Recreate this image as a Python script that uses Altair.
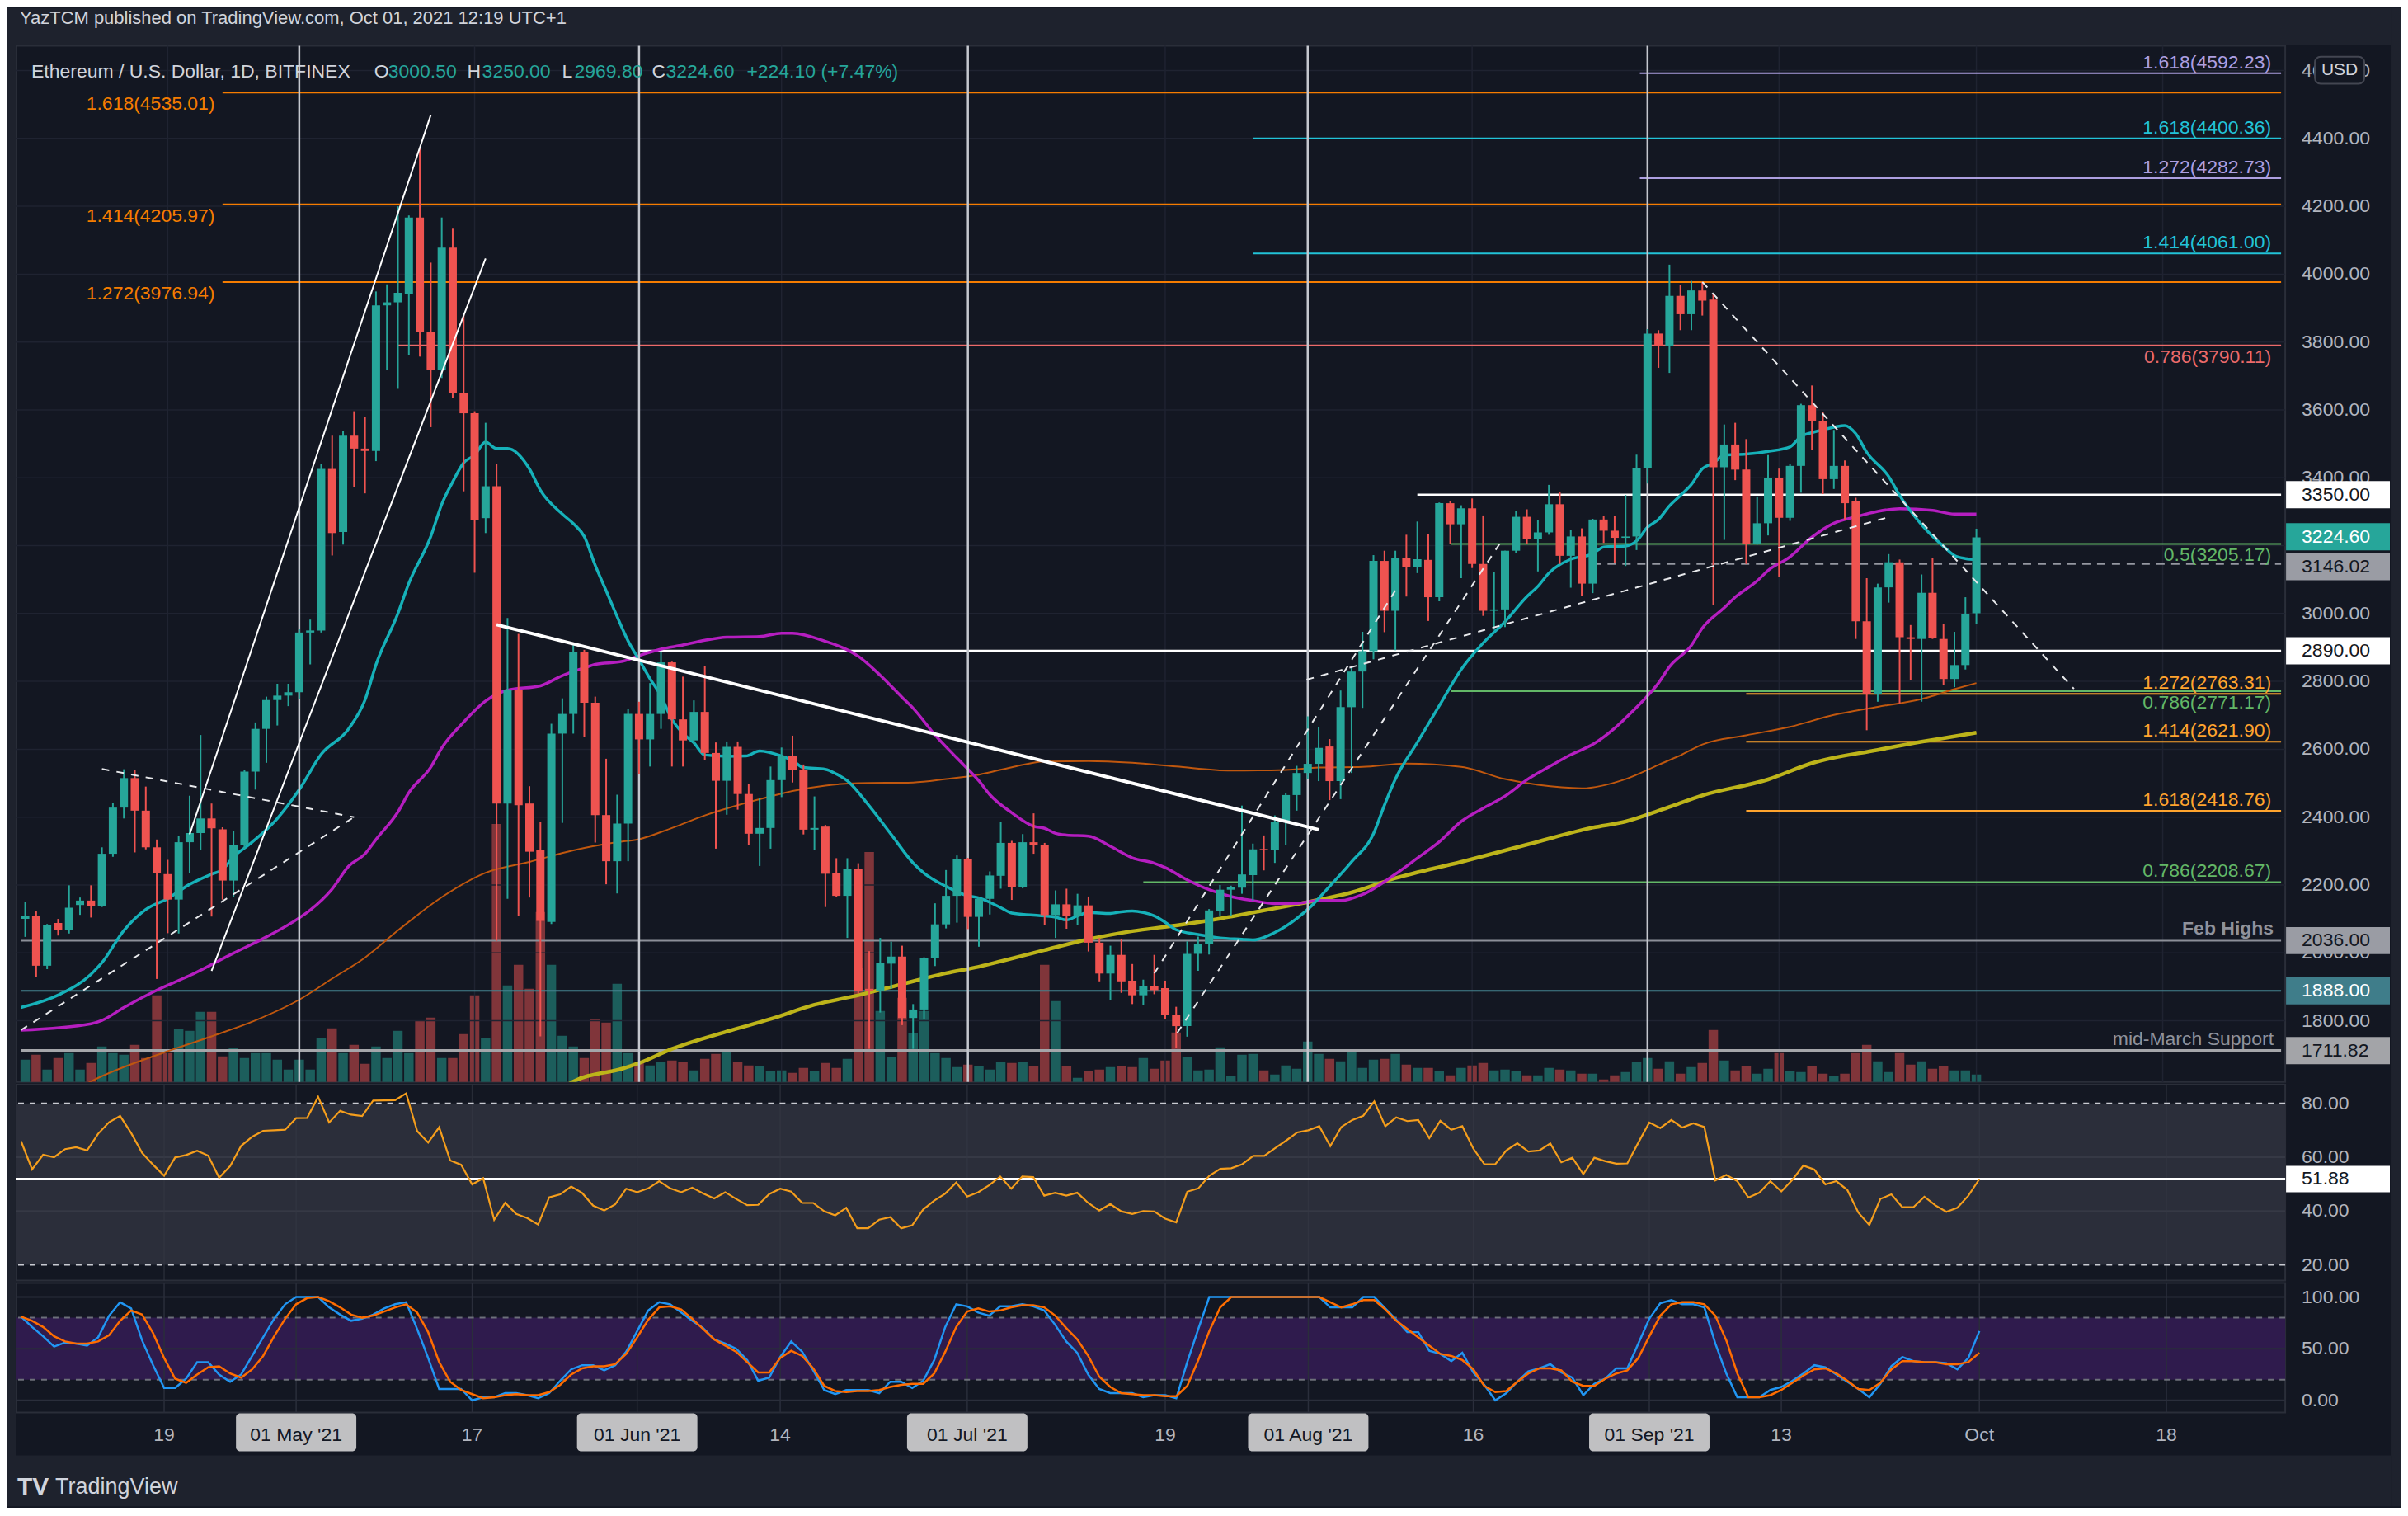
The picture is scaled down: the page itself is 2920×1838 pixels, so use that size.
import altair as alt
import numpy as np
import pandas as pd

# ------------------------------------------------------------------ data
# day index: 0 = 01 May 2021 ; first candle = 06 Apr 2021
FIRST_DAY = -25

opens = [2100, 2110, 1962, 2088, 2067, 2141, 2154, 2139, 2292, 2428, 2515, 2419, 2311, 2232, 2157, 2326, 2353, 2396, 2364, 2213, 2319, 2534, 2660, 2745, 2758,
         2768, 2944, 2950, 3426, 3240, 3524, 3486, 3479, 3908, 3917, 3940, 4167, 3829, 3719, 4078, 3649, 3590, 3281, 3375, 2440, 2775, 2440, 2302, 2091, 2646, 2704, 2886, 2737, 2406, 2270, 2381,
         2704, 2629, 2704, 2856, 2688, 2626, 2710, 2589, 2507, 2607, 2468, 2351, 2368, 2509, 2581, 2540, 2363, 2372, 2235, 2168, 2247, 1894, 1889, 1968, 1989, 1808, 1833, 1985, 2084, 2168,
         2277, 2106, 2159, 2227, 2324, 2194, 2326, 2318, 2111, 2143, 2109, 2140, 2030, 1939, 1994, 1918, 1875, 1902, 1896, 1818, 1784, 1997, 2026, 2124, 2186, 2192, 2229, 2305, 2302, 2387, 2465,
         2530, 2557, 2608, 2506, 2724, 2829, 2889, 3155, 3008, 3164, 3137, 3158, 3048, 3325, 3263, 3310, 3146, 3008, 3012, 3185, 3285, 3220, 3239, 3322, 3170, 3227, 3088, 3277, 3244, 3223, 3227,
         3429, 3825, 3788, 3936, 3882, 3952, 3925, 3431, 3498, 3424, 3206, 3266, 3399, 3282, 3435, 3614, 3566, 3396, 3435, 3330, 2977, 2764, 3077, 3151, 2930, 2925, 3061, 2925, 2807, 2848,
         3000.5]
highs = [2150, 2122, 2085, 2100, 2199, 2163, 2199, 2311, 2443, 2541, 2538, 2490, 2334, 2274, 2345, 2463, 2642, 2440, 2370, 2359, 2540, 2679, 2755, 2793, 2793,
         2953, 2982, 3441, 3524, 3539, 3596, 3580, 3949, 3970, 4200, 4173, 4371, 4034, 4167, 4134, 3879, 3596, 3562, 3441, 2987, 2940, 2491, 2387, 2675, 2750, 2907, 2893, 2755, 2572, 2466, 2718,
         2740, 2795, 2888, 2858, 2814, 2744, 2846, 2620, 2623, 2623, 2498, 2456, 2549, 2605, 2640, 2555, 2461, 2377, 2279, 2279, 2264, 2005, 2044, 2033, 2021, 1849, 1987, 2146, 2244, 2287,
         2280, 2165, 2240, 2387, 2330, 2350, 2411, 2324, 2184, 2189, 2174, 2166, 2044, 2021, 2042, 1967, 1921, 1994, 1918, 1841, 2034, 2048, 2129, 2200, 2198, 2434, 2322, 2346, 2405, 2470, 2551,
         2697, 2665, 2630, 2773, 2845, 2946, 3172, 3185, 3185, 3232, 3271, 3235, 3327, 3331, 3319, 3339, 3289, 3122, 3185, 3303, 3307, 3275, 3379, 3358, 3247, 3251, 3279, 3287, 3287, 3349, 3468,
         3838, 3835, 4028, 3968, 3980, 3977, 3941, 3557, 3562, 3514, 3345, 3467, 3427, 3440, 3618, 3672, 3593, 3541, 3451, 3341, 3104, 3088, 3175, 3159, 2966, 3115, 3164, 2969, 2946, 3048,
         3250.0]
lows = [2047, 1930, 1952, 2051, 2057, 2112, 2104, 2135, 2283, 2396, 2296, 2305, 1923, 2058, 2057, 2236, 2302, 2107, 2157, 2164, 2307, 2481, 2560, 2670, 2727,
        2749, 2850, 2944, 3171, 3203, 3373, 3354, 3449, 3719, 3662, 3762, 3757, 3549, 3694, 3634, 3360, 3120, 3237, 2035, 2159, 2110, 2163, 1754, 2085, 2383, 2646, 2636, 2325, 2202, 2175, 2270,
        2526, 2549, 2660, 2549, 2549, 2615, 2568, 2307, 2407, 2422, 2317, 2256, 2307, 2459, 2502, 2349, 2303, 2135, 2165, 2044, 1880, 1717, 1824, 1894, 1787, 1717, 1806, 1961, 2072, 2089,
        2070, 2018, 2113, 2189, 2156, 2190, 2292, 2083, 2044, 2071, 2081, 2004, 1916, 1862, 1882, 1849, 1845, 1878, 1805, 1719, 1753, 1947, 1995, 2110, 2109, 2174, 2154, 2243, 2265, 2318, 2419,
        2513, 2506, 2450, 2453, 2530, 2722, 2865, 2945, 2892, 3050, 3119, 2978, 3036, 3205, 3104, 3134, 2993, 2952, 2960, 3179, 3205, 3124, 3232, 3146, 3076, 3052, 3060, 3208, 3148, 3140, 3187,
        3383, 3724, 3709, 3835, 3835, 3878, 3025, 3217, 3393, 3146, 3203, 3230, 3108, 3273, 3356, 3483, 3352, 3367, 3277, 2925, 2656, 2740, 3032, 2735, 2803, 2740, 2925, 2788, 2783, 2835,
        2969.8]
closes = [2110, 1962, 2081, 2067, 2133, 2154, 2139, 2292, 2428, 2515, 2419, 2311, 2236, 2157, 2326, 2353, 2396, 2367, 2213, 2319, 2534, 2660, 2745, 2758, 2768,
          2944, 2950, 3426, 3237, 3524, 3486, 3479, 3908, 3917, 3945, 4167, 3829, 3719, 4078, 3649, 3590, 3275, 3375, 2440, 2775, 2435, 2298, 2094, 2646, 2704, 2886, 2737, 2406, 2270, 2381, 2704,
          2629, 2704, 2856, 2688, 2626, 2710, 2589, 2507, 2607, 2468, 2351, 2368, 2509, 2581, 2538, 2363, 2368, 2233, 2168, 2247, 1889, 1889, 1970, 1989, 1808, 1833, 1985, 2084, 2168, 2277,
          2106, 2159, 2228, 2324, 2194, 2326, 2318, 2111, 2143, 2109, 2140, 2030, 1939, 1994, 1916, 1875, 1902, 1890, 1817, 1784, 1997, 2026, 2125, 2186, 2194, 2231, 2305, 2302, 2387, 2465, 2530,
          2557, 2604, 2506, 2724, 2829, 2889, 3155, 3008, 3164, 3136, 3160, 3048, 3325, 3263, 3310, 3146, 3008, 3012, 3185, 3285, 3220, 3239, 3322, 3170, 3227, 3088, 3277, 3244, 3223, 3227, 3429,
          3825, 3788, 3936, 3882, 3952, 3922, 3431, 3498, 3424, 3206, 3266, 3399, 3282, 3435, 3614, 3566, 3396, 3435, 3325, 2977, 2764, 3077, 3151, 2930, 2925, 3061, 2927, 2807, 2848, 2998,
          3224.6]
# volume (relative bar heights)
volumes = [27, 33, 15, 29, 35, 15, 23, 43, 35, 33, 45, 29, 105, 35, 64, 62, 85, 85, 31, 41, 29, 35, 35, 27, 15,
           27, 15, 53, 65, 35, 45, 22, 43, 29, 62, 35, 74, 78, 29, 29, 58, 105, 53, 313, 117, 142, 113, 206, 142, 56, 43, 29, 76, 72, 119, 35,
           23, 20, 24, 26, 24, 14, 28, 34, 36, 24, 20, 19, 13, 14, 11, 17, 13, 23, 17, 28, 138, 279, 86, 30, 102, 59, 86, 35, 29, 18,
           21, 19, 15, 24, 23, 24, 19, 142, 98, 19, 5, 13, 15, 18, 19, 18, 29, 16, 26, 60, 30, 14, 15, 42, 7, 33, 34, 14, 9, 20, 16,
           49, 34, 28, 25, 38, 17, 27, 28, 34, 21, 17, 17, 13, 8, 17, 20, 23, 14, 15, 13, 8, 8, 17, 15, 14, 10, 10, 3, 8, 12, 24,
           29, 16, 25, 10, 18, 23, 63, 26, 14, 19, 10, 16, 35, 13, 12, 19, 10, 7, 10, 35, 45, 25, 12, 35, 21, 25, 16, 19, 14, 14,
           9]
rsi = [65.9, 55.5, 60.9, 60.0, 63.0, 63.7, 62.5, 68.7, 73.0, 75.3,
       69.0, 61.6, 57.2, 53.1, 59.9, 60.8, 62.4, 60.6, 52.4, 56.7,
       64.2, 67.6, 69.8, 70.0, 70.2, 74.5, 74.6, 82.4, 72.9, 77.2,
       75.8, 75.3, 81.0, 81.1, 81.2, 83.7, 69.7, 65.4, 71.1, 58.8,
       57.2, 49.9, 52.2, 36.8, 43.1, 38.9, 37.4, 35.0, 45.1, 46.2,
       49.1, 46.7, 42.0, 40.2, 42.5, 48.3, 47.0, 48.4, 51.1, 48.4,
       47.0, 48.7, 46.5, 44.7, 47.0, 44.5, 42.2, 42.3, 46.3, 48.3,
       47.2, 43.0, 43.0, 39.9, 38.4, 41.2, 33.6, 33.6, 36.8, 37.7,
       33.6, 34.7, 40.6, 43.9, 46.5, 50.6, 45.4, 47.0,
       49.6, 52.8, 48.3, 52.8, 52.6, 45.7, 46.8, 45.7, 46.8, 43.0,
       40.2, 42.6, 39.9, 38.9, 40.0, 39.8, 37.2, 35.8, 47.2, 48.4,
       53.1, 55.7, 55.9, 57.4, 60.5, 60.5, 63.4, 66.2, 69.2, 70.0,
       71.5, 64.1, 71.2, 73.8, 75.4, 80.7, 71.5, 74.8, 73.4, 73.8,
       67.1, 73.5, 70.2, 71.5, 63.2, 57.4, 57.4, 62.5, 65.2, 62.1,
       62.5, 65.1, 58.1, 59.8, 53.7, 59.8, 58.5, 57.6, 57.7, 65.4,
       72.9, 70.8, 73.8, 71.0, 72.6, 71.2, 51.4, 53.4, 51.1, 45.0,
       46.8, 51.1, 47.3, 51.6, 56.9, 55.4, 49.9, 51.1, 47.8, 39.4,
       34.8, 44.5, 46.2, 41.4, 41.4, 45.3, 42.1, 39.7, 41.2, 45.7,
       51.88]
stoch_k = [81, 71, 62, 52, 56, 55, 53, 61, 82, 95, 89, 58, 34, 12, 12, 21, 37, 37, 25, 18,
           25, 43, 61, 79, 93, 100, 100, 100, 90, 83, 77, 79, 83, 89, 93, 95, 69, 41, 11, 11,
           11, 0, 3, 3, 7, 7, 5, 2, 7, 19, 30, 34, 34, 29, 34, 47, 67, 87, 95, 93,
           85, 77, 70, 59, 55, 50, 39, 19, 22, 42, 57, 47, 29, 10, 6, 10, 10, 10, 7, 18,
           18, 12, 19, 39, 71, 93, 91, 85,
           82, 91, 91, 93, 91, 87, 73, 57, 46, 25, 11, 7, 7, 7, 3, 5, 5, 2, 37, 69,
           100, 100, 100, 100, 100, 100, 100, 100, 100, 100, 100, 90, 90, 90, 100, 100, 89, 78, 66, 66,
           48, 45, 38, 46, 27, 15, 0, 7, 18, 28, 31, 35, 27, 22, 5, 16, 21, 31, 31, 55,
           79, 94, 97, 93, 93, 90, 55, 26, 3, 3, 3, 10, 13, 19, 26, 34, 32, 25, 18, 11,
           3, 16, 33, 42, 38, 37, 37, 36, 30, 41, 67]
stoch_d = [81, 77, 71, 62, 57, 55, 55, 57, 63, 77, 87, 83, 65, 41, 21, 17, 25, 32, 33, 26,
           22, 30, 43, 62, 79, 93, 99, 100, 96, 90, 83, 80, 82, 86, 90, 93, 85, 66, 37, 18,
           10, 6, 2, 3, 5, 6, 5, 5, 8, 15, 25, 31, 33, 33, 35, 45, 61, 78, 90, 91,
           88, 79, 69, 59, 53, 47, 37, 27, 27, 41, 48, 43, 31, 14, 9, 8, 9, 9, 10, 13,
           15, 16, 16, 26, 47, 71, 86, 89,
           86, 87, 90, 92, 92, 90, 82, 70, 59, 43, 23, 13, 7, 6, 5, 5, 4, 4, 14, 39,
           67, 90, 100, 100, 100, 100, 100, 100, 100, 100, 100, 95, 90, 93, 97, 97, 88, 77, 69, 61,
           53, 45, 43, 39, 30, 14, 8, 9, 18, 26, 31, 31, 29, 18, 14, 14, 21, 26, 29, 41,
           62, 82, 93, 95, 95, 93, 82, 58, 26, 3, 3, 5, 10, 17, 24, 30, 31, 26, 19, 11,
           10, 17, 30, 38, 38, 37, 37, 35, 35, 37, 46]

# moving averages, sampled as [day, value]
ema20_pts = [(-25.4, 1839), (-21.9, 1877), (-19, 1937), (-18, 1971), (-16, 2066), (-14, 2128), (-12, 2160), (-10, 2202),
             (-8, 2232), (-7, 2245), (-6, 2283), (-4.5, 2321), (-2, 2396), (0, 2481), (2, 2585), (4.5, 2660), (6, 2745),
             (7, 2849), (9, 3000), (10, 3089), (12, 3227), (13, 3322), (14, 3388), (15, 3444), (16, 3467), (17, 3505),
             (18, 3486), (19, 3486), (21, 3426), (22, 3363), (24, 3293), (25, 3265), (26, 3227), (27, 3142), (28, 3067),
             (29, 2991), (30, 2919), (31, 2864), (32, 2808), (33, 2757), (34, 2688), (35, 2647), (36, 2619), (37, 2583),
             (38, 2581), (39, 2579), (40.75, 2580), (42, 2595), (44, 2580), (45, 2567), (46, 2546), (48, 2541), (49, 2527),
             (50, 2507), (52, 2433), (54, 2349), (56, 2265), (57, 2235), (59, 2196), (61, 2168), (62, 2162), (64, 2133),
             (65, 2117), (67, 2111), (69, 2105), (70, 2097), (71, 2109), (72, 2119), (74, 2116), (75, 2121), (76, 2123),
             (77, 2119), (78, 2109), (79, 2090), (80, 2068), (82, 2054), (84, 2044), (86, 2040), (87, 2038), (89, 2060),
             (91, 2101), (92.4, 2140), (94, 2196), (96, 2268), (98, 2351), (99, 2435), (100, 2512), (102, 2620), (104, 2728),
             (106, 2835), (108, 2913), (110, 2976), (112, 3050), (113, 3080), (114, 3119), (116, 3160), (118, 3176),
             (119, 3196), (121, 3199), (122, 3214), (123, 3254), (124, 3277), (125, 3317), (126, 3348), (127, 3380),
             (128, 3427), (129, 3443), (130, 3467), (132, 3470), (134, 3478), (136, 3491), (137, 3522), (138, 3533),
             (140, 3549), (141, 3554), (142, 3530), (143, 3475), (145, 3404), (146, 3348), (148, 3262), (150, 3198),
             (151, 3171), (152, 3162), (153, 3159)]
ma50_pts = [(-25.4, 1772), (-19, 1791), (-18, 1801), (-16, 1839), (-13, 1890), (-10, 1933), (-6, 1999), (-3, 2047),
            (0, 2103), (1, 2126), (3, 2188), (4.5, 2255), (6, 2292), (7, 2334), (9, 2415), (10, 2472), (12, 2547),
            (13, 2604), (15, 2680), (17, 2742), (19, 2774), (22, 2787), (24, 2817), (26, 2840), (27, 2850), (29.5, 2859),
            (31, 2876), (33, 2895), (35, 2907), (37, 2921), (39, 2930), (42, 2932), (44, 2942), (45, 2942), (48, 2918),
            (50, 2893), (51, 2874), (53, 2818), (55, 2753), (56, 2721), (58, 2642), (60, 2574), (62, 2507), (63, 2466),
            (65, 2413), (67, 2373), (68, 2367), (69, 2352), (70, 2347), (72, 2344), (74, 2314), (76, 2280), (78, 2264),
            (79, 2251), (81, 2215), (83, 2186), (85, 2166), (87, 2154), (89, 2145), (91, 2146), (93, 2154), (95, 2154),
            (97, 2172), (100, 2232), (102, 2279), (104, 2327), (106, 2387), (108, 2426), (110, 2462), (112, 2510),
            (114, 2548), (116, 2584), (118, 2614), (120, 2662), (121, 2692), (122.5, 2740), (124, 2795), (125, 2843),
            (127, 2906), (128, 2957), (130, 3017), (131, 3048), (133, 3096), (134, 3127), (136, 3167), (138, 3225),
            (140, 3266), (142, 3285), (144, 3301), (146, 3309), (149, 3304), (151, 3293), (153, 3293)]
ma100_pts = [(-21, 1585), (-19, 1621), (-12, 1710), (-8, 1754), (-4, 1801), (0, 1862), (3, 1924), (6, 1986), (9, 2066),
             (13, 2164), (17, 2236), (21, 2268), (25, 2302), (29, 2326), (31, 2335), (34, 2368), (37, 2405), (40, 2435),
             (43, 2461), (45, 2477), (48, 2493), (51, 2500), (56, 2502), (59, 2512), (62, 2525), (65, 2547), (68, 2564),
             (72, 2565), (76, 2560), (80, 2549), (85, 2537), (90, 2539), (93, 2546), (97, 2548), (101, 2558), (106, 2548),
             (110, 2512), (113, 2495), (117, 2485), (121, 2512), (124, 2554), (126, 2582), (128, 2614), (132, 2641),
             (136, 2666), (140, 2701), (144, 2725), (148, 2748), (151, 2777), (153, 2795)]
ma200_pts = [(23.5, 1590), (25, 1621), (29.5, 1659), (31, 1675), (34, 1717), (39, 1768), (43, 1805), (47, 1847), (51, 1875),
             (55, 1908), (59, 1940), (62, 1959), (64, 1975), (68, 2008), (72, 2040), (76, 2064), (80, 2081), (84, 2101),
             (88, 2125), (91, 2143), (93, 2156), (96, 2178), (100, 2220), (106, 2268), (112, 2319), (118, 2369),
             (121, 2387), (124.4, 2423), (128, 2464), (134, 2511), (138, 2559), (144, 2598), (148, 2622), (151, 2638),
             (153, 2649)]

# horizontal levels
hl_price = [4592.23, 4535.01, 4400.36, 4282.73, 4205.97, 4061.00, 3976.94, 3790.11, 3350.00, 3205.17,
            2890.00, 2771.17, 2763.31, 2621.90, 2418.76, 2208.67, 2036.00, 1888.00, 1711.82]
hl_start = [122.3, -7.0, 87.0, 122.3, -7.0, 87.0, -7.0, 9.0, 102.0, 105.1,
            31.0, 105.1, 132.0, 132.0, 132.0, 77.0, -25.42, -25.42, -25.42]
LAV, OR1, OR2, CY, GRN, SAL = "#ad9fe0", "#f57c00", "#ffa42e", "#22c3d8", "#63b867", "#ec6a6a"
hl_color = [LAV, OR1, CY, LAV, OR1, CY, OR1, SAL, "#ffffff", GRN,
            "#ffffff", GRN, OR2, OR2, OR2, GRN, "#8c8f98", "#44838f", "#a5a6aa"]
hl_width = [2, 2, 2, 2, 2, 2, 2, 2, 2.5, 2, 2.5, 2, 2, 2, 2, 2, 2, 2, 3.5]
dash_price, dash_start = 3146.02, 118.0

lab_left = [(4535.01, "1.618(4535.01)"), (4205.97, "1.414(4205.97)"), (3976.94, "1.272(3976.94)")]
lab_above = [(4592.23, "1.618(4592.23)", LAV), (4400.36, "1.618(4400.36)", CY), (4282.73, "1.272(4282.73)", LAV),
             (4061.00, "1.414(4061.00)", CY), (2763.31, "1.272(2763.31)", OR2), (2621.90, "1.414(2621.90)", OR2),
             (2418.76, "1.618(2418.76)", OR2), (2208.67, "0.786(2208.67)", GRN)]
lab_below = [(3790.11, "0.786(3790.11)", SAL), (3205.17, "0.5(3205.17)", GRN), (2771.17, "0.786(2771.17)", GRN)]
lab_note = [(2036.00, "Feb Highs", "bold"), (1711.82, "mid-March Support", "normal")]

# price-scale tags: value shown, and where the tag sits (TradingView nudges touching tags apart)
box_price = [3350.00, 3146.02, 3224.60, 2890.00, 2036.00, 1888.00, 1711.82]
box_pos = [3350.00, 3138.00, 3226.00, 2890.00, 2036.00, 1888.00, 1711.82]
box_bg = ["#ffffff", "#9a9ca4", "#26a69a", "#ffffff", "#9a9ca4", "#3f7d8a", "#a3a4a8"]
box_fg = ["#131722", "#131722", "#ffffff", "#131722", "#131722", "#ffffff", "#131722"]

# drawn trend lines: x1, y1, x2, y2, width
trend_solid = [(-10.0, 2349, 12.0, 4469, 2), (-8.0, 1947, 17.0, 4046, 2), (18.0, 2967, 93.0, 2363, 4)]
trend_dash = [(-18.0, 2542, 5.0, 2400), (-25.4, 1772, 5.0, 2400), (78.0, 1939, 100.0, 3068),
              (80.1, 1764, 109.5, 3205), (91.9, 2805, 145.1, 3285), (128.0, 3977, 161.9, 2778)]

PRICE_TICKS = list(range(1800, 4601, 200))
# 3200.00 sits fully under the current-price tag in the reference, so it is not printed
PRICE_LABELS = [p for p in PRICE_TICKS if p != 3200]
RSI_TICKS = [20, 40, 60, 80]
STO_TICKS = [0, 50, 100]
RSI_LEVEL = 51.88
X_TICK_DAYS = [-12, 0, 16, 31, 44, 61, 79, 92, 107, 123, 135, 153, 170]
X_TICK_TEXT = ["19", "", "17", "", "14", "", "19", "", "16", "", "13", "Oct", "18"]
MONTH_DAYS = [0, 31, 61, 92, 123]
MONTH_LABELS = ["01 May '21", "01 Jun '21", "01 Jul '21", "01 Aug '21", "01 Sep '21"]

HEADER = "YazTCM published on TradingView.com, Oct 01, 2021 12:19 UTC+1"
LEGEND = [(18, "Ethereum / U.S. Dollar, 1D, BITFINEX", "#d1d4dc"), (434, "O", "#d1d4dc"), (451, "3000.50", "#26a69a"),
          (547, "H", "#d1d4dc"), (565, "3250.00", "#26a69a"), (662, "L", "#d1d4dc"), (677, "2969.80", "#26a69a"),
          (771, "C", "#d1d4dc"), (788, "3224.60", "#26a69a"), (886, "+224.10 (+7.47%)", "#26a69a")]

# ------------------------------------------------------------------ geometry / style
FONT = "Liberation Sans"
BG, FRAME, GRID, SEP = "#131722", "#1e222d", "#1f2331", "#2a2e39"
AXT = "#b2b5be"
UP, DN, VUP, VDN = "#26a69a", "#ef5350", "#1c5e5c", "#80353a"
W, HM, HR, HS, GAP = 2753, 1257, 238, 157, 3
X_DOM = [-25.42, 180.8]
XS = alt.Scale(domain=X_DOM, nice=False, zero=False)
PS = alt.Scale(domain=[1619.6, 4672.8], nice=False, zero=False)
RS = alt.Scale(domain=[14.18, 87.04], nice=False, zero=False)
SS = alt.Scale(domain=[-11.73, 113.57], nice=False, zero=False)
VS = alt.Scale(domain=[0, HM], nice=False, zero=True)
FS = 23

n = len(closes)
assert all(len(a) == n for a in [opens, highs, lows, volumes, rsi, stoch_k, stoch_d])
days = list(range(FIRST_DAY, FIRST_DAY + n))
cdf = pd.DataFrame({"d": days, "o": opens, "h": highs, "l": lows, "c": closes, "v": volumes})
cdf["lo"] = np.minimum(cdf.o, cdf.c)
cdf["hi"] = np.maximum(np.maximum(cdf.o, cdf.c), cdf.lo + 4)
ind = pd.DataFrame({"d": days, "r": rsi, "k": stoch_k, "dd": stoch_d})
one = pd.DataFrame({"k": [0]})
UPCOND = "datum.c >= datum.o"


def xq(field="d"):
    return alt.X(f"{field}:Q", scale=XS, axis=None)


def tick_labels(values, scale):
    """right-hand price-scale labels, placed through the panel's y scale"""
    return alt.Chart(pd.DataFrame({"v": values})).mark_text(
        align="left", baseline="middle", font=FONT, fontSize=FS, color=AXT).encode(
        x=alt.value(W + 20), y=alt.Y("v:Q", scale=scale, axis=None), text=alt.Text("v:Q", format=".2f"))


def pix_rect(x1, x2, y1, y2, color, **kw):
    return alt.Chart(one).mark_rect(color=color, **kw).encode(
        x=alt.value(x1), x2=alt.value(x2), y=alt.value(y1), y2=alt.value(y2))


def pix_text(x, y, text, color, size=FS, **kw):
    return alt.Chart(one).mark_text(text=text, color=color, font=FONT, fontSize=size, **kw).encode(
        x=alt.value(x), y=alt.value(y))


def boxes(prices, pos, bgs, fgs, scale, half):
    df = pd.DataFrame({"p": pos, "bg": bgs, "fg": fgs,
                       "t": [f"{p:.2f}" for p in prices]})
    df["a"] = df.p - half
    df["b"] = df.p + half
    r = alt.Chart(df).mark_rect().encode(
        x=alt.value(W + 1), x2=alt.value(W + 127),
        y=alt.Y("a:Q", scale=scale, axis=None), y2="b:Q", color=alt.Color("bg:N", scale=None))
    t = alt.Chart(df).mark_text(align="left", baseline="middle", font=FONT, fontSize=FS).encode(
        x=alt.value(W + 20), y=alt.Y("p:Q", scale=scale, axis=None), text="t:N",
        color=alt.Color("fg:N", scale=None))
    return [r, t]


# ------------------------------------------------------------------ main panel
grid_h = alt.Chart(pd.DataFrame({"p": PRICE_TICKS})).mark_rule(color=GRID, strokeWidth=1.5).encode(
    y=alt.Y("p:Q", scale=PS, axis=None))
grid_v = alt.Chart(pd.DataFrame({"d": X_TICK_DAYS})).mark_rule(color=GRID, strokeWidth=1.5).encode(x=xq())

hl = pd.DataFrame({"p": hl_price, "s": hl_start, "e": X_DOM[1], "col": hl_color, "w": hl_width})
hlines = alt.Chart(hl).mark_rule().encode(
    x=xq("s"), x2="e:Q", y=alt.Y("p:Q", scale=PS, axis=None),
    color=alt.Color("col:N", scale=None), strokeWidth=alt.StrokeWidth("w:Q", scale=None))
dline = alt.Chart(pd.DataFrame({"p": [dash_price], "s": [dash_start], "e": [X_DOM[1]]})).mark_rule(
    color="#9598a1", strokeWidth=2, strokeDash=[10, 8]).encode(
    x=xq("s"), x2="e:Q", y=alt.Y("p:Q", scale=PS, axis=None))


def ma_line(pts, color, width):
    df = pd.DataFrame(pts, columns=["d", "v"])
    return alt.Chart(df).mark_line(color=color, strokeWidth=width, interpolate="monotone", clip=True).encode(
        x=xq(), y=alt.Y("v:Q", scale=PS, axis=None))


mas = [ma_line(ma100_pts, "#c0570e", 2), ma_line(ma200_pts, "#bdb41a", 4.5),
       ma_line(ma50_pts, "#b51ec0", 3.5), ma_line(ema20_pts, "#16b1b9", 3.5)]

vlines = alt.Chart(pd.DataFrame({"d": MONTH_DAYS})).mark_rule(color="#c4c7ce", strokeWidth=2.5).encode(x=xq())

wick = alt.Chart(cdf).mark_rule(strokeWidth=2).encode(
    x=xq(), y=alt.Y("l:Q", scale=PS, axis=None), y2="h:Q",
    color=alt.condition(UPCOND, alt.value(UP), alt.value(DN)))
body = alt.Chart(cdf).mark_bar(size=10, orient="vertical").encode(
    x=xq(), y=alt.Y("lo:Q", scale=PS, axis=None), y2="hi:Q",
    color=alt.condition(UPCOND, alt.value(UP), alt.value(DN)))

ts = pd.DataFrame(trend_solid, columns=["x1", "y1", "x2", "y2", "w"])
tsol = alt.Chart(ts).mark_rule(color="#ffffff").encode(
    x=xq("x1"), y=alt.Y("y1:Q", scale=PS, axis=None), x2="x2:Q", y2="y2:Q",
    strokeWidth=alt.StrokeWidth("w:Q", scale=None))
td = pd.DataFrame(trend_dash, columns=["x1", "y1", "x2", "y2"])
tdash = alt.Chart(td).mark_rule(color="#e8e9ec", strokeWidth=2, strokeDash=[9, 9]).encode(
    x=xq("x1"), y=alt.Y("y1:Q", scale=PS, axis=None), x2="x2:Q", y2="y2:Q")

ll = pd.DataFrame(lab_left, columns=["p", "t"])
ll["x"] = -7.7
t_left = alt.Chart(ll).mark_text(align="right", baseline="top", dy=3, font=FONT, fontSize=FS, color=OR1).encode(
    x=xq("x"), y=alt.Y("p:Q", scale=PS, axis=None), text="t:N")
la = pd.DataFrame(lab_above, columns=["p", "t", "col"])
t_above = alt.Chart(la).mark_text(align="right", baseline="bottom", dy=-1, font=FONT, fontSize=FS).encode(
    x=alt.value(W - 17), y=alt.Y("p:Q", scale=PS, axis=None), text="t:N", color=alt.Color("col:N", scale=None))
lb = pd.DataFrame(lab_below, columns=["p", "t", "col"])
t_below = alt.Chart(lb).mark_text(align="right", baseline="top", dy=3, font=FONT, fontSize=FS).encode(
    x=alt.value(W - 17), y=alt.Y("p:Q", scale=PS, axis=None), text="t:N", color=alt.Color("col:N", scale=None))
t_notes = []
for p, t, fw in lab_note:
    t_notes.append(alt.Chart(pd.DataFrame({"p": [p], "t": [t]})).mark_text(
        align="right", baseline="bottom", dy=-2, font=FONT, fontSize=FS, fontWeight=fw, color="#8f929b").encode(
        x=alt.value(W - 14), y=alt.Y("p:Q", scale=PS, axis=None), text="t:N"))

usd = pd.DataFrame({"a": [4561.0], "b": [4641.0], "p": [4601.0]})
usd_box = alt.Chart(usd).mark_rect(color=BG, stroke="#434651", strokeWidth=2, cornerRadius=7).encode(
    x=alt.value(W + 36), x2=alt.value(W + 96), y=alt.Y("a:Q", scale=PS, axis=None), y2="b:Q")
usd_txt = alt.Chart(usd).mark_text(text="USD", color="#d1d4dc", font=FONT, fontSize=21, baseline="middle").encode(
    x=alt.value(W + 66), y=alt.Y("p:Q", scale=PS, axis=None))

frame = [pix_rect(-11, W + 140, -46, -1, FRAME), pix_rect(-11, 0, -46, HM + GAP + HR + GAP + HS + 114, FRAME),
         pix_rect(W + 128, W + 140, -46, HM + GAP + HR + GAP + HS + 114, FRAME),
         pix_text(4, -34, HEADER, "#d1d4dc", 22, align="left", baseline="middle")]
legend = [pix_text(x, 31, t, c, FS, align="left", baseline="middle") for x, t, c in LEGEND]

inner = alt.layer(grid_h, grid_v, hlines, dline, *mas, vlines, wick, body, tsol, tdash,
                  t_left, t_above, t_below, *t_notes, tick_labels(PRICE_LABELS, PS),
                  *boxes(box_price, box_pos, box_bg, box_fg, PS, 40), usd_box, usd_txt, *frame, *legend)

vol = alt.Chart(cdf).mark_bar(size=11.5, orient="vertical").encode(
    x=xq(), y=alt.Y("v:Q", scale=VS, axis=None), y2=alt.datum(0),
    color=alt.condition(UPCOND, alt.value(VUP), alt.value(VDN)))

main = alt.layer(vol, inner).resolve_scale(y="independent").properties(width=W, height=HM)

# ------------------------------------------------------------------ RSI panel
rband = alt.Chart(pd.DataFrame({"a": [RSI_TICKS[0]], "b": [RSI_TICKS[-1]]})).mark_rect(color="#2b2e3a").encode(
    x=alt.value(0), x2=alt.value(W), y=alt.Y("a:Q", scale=RS, axis=None), y2="b:Q")
rgrid_h = alt.Chart(pd.DataFrame({"v": RSI_TICKS[1:-1]})).mark_rule(color="#363945", strokeWidth=2).encode(
    y=alt.Y("v:Q", scale=RS, axis=None))
rgrid_v = alt.Chart(pd.DataFrame({"d": X_TICK_DAYS})).mark_rule(color="#363945", strokeWidth=1.5, opacity=0.6).encode(x=xq())
rdash = alt.Chart(pd.DataFrame({"v": [RSI_TICKS[0], RSI_TICKS[-1]]})).mark_rule(
    color="#c9cbd2", strokeWidth=2, strokeDash=[7, 7]).encode(y=alt.Y("v:Q", scale=RS, axis=None))
rlevel = alt.Chart(pd.DataFrame({"v": [RSI_LEVEL]})).mark_rule(color="#ffffff", strokeWidth=3).encode(
    y=alt.Y("v:Q", scale=RS, axis=None))
rline = alt.Chart(ind).mark_line(color="#f59e1c", strokeWidth=2.2).encode(
    x=xq(), y=alt.Y("r:Q", scale=RS, axis=None))
rsi_panel = alt.layer(rband, rgrid_h, rgrid_v, rdash, rlevel, rline, tick_labels(RSI_TICKS, RS),
                      *boxes([RSI_LEVEL], [RSI_LEVEL], ["#ffffff"], ["#131722"], RS, 4.9)).properties(width=W, height=HR)

# ------------------------------------------------------------------ Stoch RSI panel
sband = alt.Chart(pd.DataFrame({"a": [20], "b": [80]})).mark_rect(color="#2f1b4d").encode(
    x=alt.value(0), x2=alt.value(W), y=alt.Y("a:Q", scale=SS, axis=None), y2="b:Q")
sgrid_h = alt.Chart(pd.DataFrame({"v": STO_TICKS})).mark_rule(color="#2a2e3b", strokeWidth=2).encode(
    y=alt.Y("v:Q", scale=SS, axis=None))
sgrid_v = alt.Chart(pd.DataFrame({"d": X_TICK_DAYS})).mark_rule(color="#2a2e3b", strokeWidth=1.5).encode(x=xq())
sdash = alt.Chart(pd.DataFrame({"v": [20, 80]})).mark_rule(color="#6d707a", strokeWidth=2, strokeDash=[7, 7]).encode(
    y=alt.Y("v:Q", scale=SS, axis=None))
kline = alt.Chart(ind).mark_line(color="#2196f3", strokeWidth=2.5).encode(x=xq(), y=alt.Y("k:Q", scale=SS, axis=None))
dline2 = alt.Chart(ind).mark_line(color="#ff6d00", strokeWidth=2.5).encode(x=xq(), y=alt.Y("dd:Q", scale=SS, axis=None))

xl = pd.DataFrame({"d": X_TICK_DAYS, "t": X_TICK_TEXT})
xl = xl[xl.t != ""]
xlab = alt.Chart(xl).mark_text(font=FONT, fontSize=FS, color=AXT, baseline="middle").encode(
    x=xq(), y=alt.value(HS + 28), text="t:N")

mb = pd.DataFrame({"d": MONTH_DAYS, "t": MONTH_LABELS})
mb["a"] = mb.d - 5.47
mb["b"] = mb.d + 5.47
mbox = alt.Chart(mb).mark_rect(color="#c0c0c2", cornerRadius=5).encode(
    x=xq("a"), x2="b:Q", y=alt.value(HS + 1), y2=alt.value(HS + 47))
mtxt = alt.Chart(mb).mark_text(color="#131722", font=FONT, fontSize=FS, baseline="middle").encode(
    x=xq(), y=alt.value(HS + 28), text="t:N")

bottom = [pix_rect(0, W + 128, HS + 52, HS + 114, FRAME),
          pix_text(1, HS + 91, "TV", "#d1d4dc", 30, align="left", baseline="middle", fontWeight=900),
          pix_text(47, HS + 91, "TradingView", "#d1d4dc", 27, align="left", baseline="middle")]

sto_panel = alt.layer(sband, sgrid_h, sgrid_v, sdash, kline, dline2, tick_labels(STO_TICKS, SS),
                      xlab, mbox, mtxt, *bottom).properties(width=W, height=HS)

chart = alt.vconcat(main, rsi_panel, sto_panel, spacing=GAP, bounds="flush").resolve_scale(
    x="independent", y="independent").properties(background=BG, padding=0).configure_view(
    stroke=SEP, strokeWidth=2)

chart.save("out.html", embed_options={"renderer": "svg", "actions": False})
